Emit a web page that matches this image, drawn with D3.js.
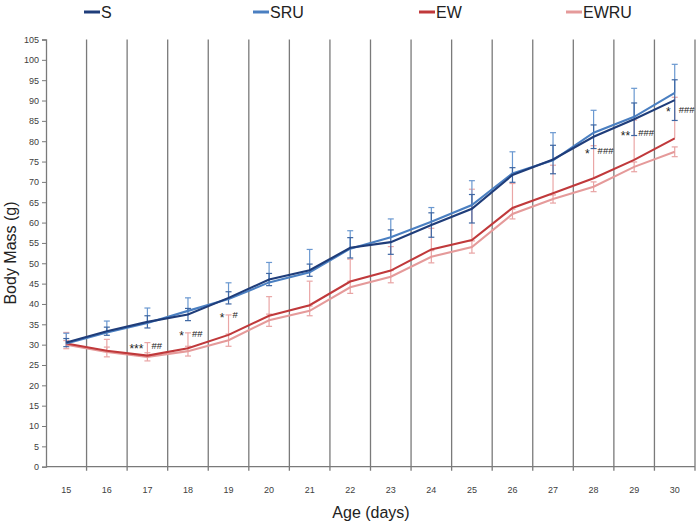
<!DOCTYPE html>
<html><head><meta charset="utf-8">
<script src="https://cdn.jsdelivr.net/npm/d3@7"></script>
<style>body{margin:0;background:#fff}svg{display:block}</style></head>
<body><svg id="c" width="697" height="525"></svg>
<script>
const days = [15,16,17,18,19,20,21,22,23,24,25,26,27,28,29,30];
const seriesNames = ["S","SRU","EW","EWRU"];
const S    = [30.5,33.3,35.6,37.4,41.5,46.0,48.3,53.8,55.2,59.4,63.4,71.7,75.5,81.1,85.4,90.1];
const SRU  = [30.3,33.0,35.3,38.3,41.2,45.3,47.8,53.6,56.4,60.2,64.3,72.1,75.3,82.1,86.0,91.9];
const EW   = [30.3,28.5,27.3,29.1,32.4,37.1,39.7,45.5,48.2,53.4,55.7,63.6,67.2,70.9,75.4,80.7];
const EWRU = [30.0,28.2,27.0,28.4,31.1,36.0,38.3,44.1,46.7,51.6,54.0,62.1,65.8,68.8,73.7,77.4];
// error bars: S and EWRU symmetric, SRU and EW plus direction
const S_err    = [1.0,1.0,1.5,1.5,1.5,1.5,1.5,2.5,3.0,3.0,3.5,1.8,3.5,2.9,4.0,5.0];
const SRU_err  = [2.5,2.8,3.7,3.2,4.0,4.9,5.6,4.4,4.5,3.5,6.0,5.3,6.8,5.5,7.0,7.0];
const EW_err   = [2.7,2.8,3.2,3.8,4.9,4.7,5.9,5.5,5.9,5.2,12.5,6.0,6.9,8.0,9.8,10.1];
const EWRU_err = [1.0,1.2,1.0,1.2,1.5,1.5,1.2,1.5,1.5,1.5,1.5,1.2,1.0,1.2,1.2,1.2];
const yTicks = d3.range(0,106,5);
const annotDays   = [17,18,19,28,29,30];
const annotStars  = ["***","*","*","*","**","*"];
const annotHashes = ["##","##","#","###","###","###"];
const annotY      = [29.7,32.8,37.3,77.6,82.1,87.8];

const colors = {S:"#1f3d7a", SRU:"#4a7fc1", EW:"#c0393b", EWRU:"#e59a9a"};
const barColors = {S:"#3d66a3", SRU:"#6a98d0", EW:"#eaa6a6", EWRU:"#e8a3a3"};

const svg = d3.select("#c");
const L = 46, R = 695, T = 39.5, B = 466.7;
const x = d3.scaleBand().domain(days).range([L,R]).padding(0);
const bw = x.bandwidth();
const cx = d => x(d) + bw/2;
const y = d3.scaleLinear().domain([0,105]).range([B,T]);
const FONT = "Liberation Sans, Arial, sans-serif";

// vertical gridlines at category boundaries
svg.append("g").selectAll("line").data(days).join("line")
  .attr("x1", d => x(d)+bw).attr("x2", d => x(d)+bw)
  .attr("y1", T).attr("y2", B+4)
  .attr("stroke", "#7a7a7a").attr("stroke-width", 1.3);

// y axis
const ya = svg.append("g").attr("transform", `translate(${L},0)`)
  .call(d3.axisLeft(y).tickValues(yTicks).tickSize(4).tickPadding(3));
ya.select(".domain").attr("stroke","#7a7a7a").attr("stroke-width",1.3);
ya.selectAll(".tick line").attr("stroke","#7a7a7a");
ya.selectAll(".tick text").attr("font-family",FONT)
  .attr("font-size","9px").attr("fill","#404040");

// x axis line and labels
svg.append("line").attr("x1",L).attr("x2",R).attr("y1",B).attr("y2",B)
  .attr("stroke","#7a7a7a").attr("stroke-width",1.3);
svg.append("g").selectAll("text").data(days).join("text")
  .attr("x", cx).attr("y", 493).attr("text-anchor","middle")
  .attr("font-family",FONT).attr("font-size","9px")
  .attr("fill","#404040").text(d => d);

// error bars
function errBars(vals, errs, color, plusOnly) {
  const g = svg.append("g").attr("stroke", color).attr("stroke-width", 1.2);
  days.forEach((d,i) => {
    const top = vals[i] + errs[i];
    const bot = plusOnly ? vals[i] : vals[i] - errs[i];
    const X = cx(d);
    g.append("line").attr("x1",X).attr("x2",X).attr("y1",y(top)).attr("y2",y(bot));
    g.append("line").attr("x1",X-3).attr("x2",X+3).attr("y1",y(top)).attr("y2",y(top));
    if (!plusOnly) g.append("line").attr("x1",X-3).attr("x2",X+3).attr("y1",y(bot)).attr("y2",y(bot));
  });
}
errBars(EW, EW_err, barColors.EW, true);
errBars(EWRU, EWRU_err, barColors.EWRU, false);
errBars(SRU, SRU_err, barColors.SRU, true);
errBars(S, S_err, barColors.S, false);

// lines
const line = d3.line().x((v,i) => cx(days[i])).y(v => y(v));
[["EWRU",EWRU],["EW",EW],["SRU",SRU],["S",S]].forEach(([n,vals]) => {
  svg.append("path").datum(vals).attr("d", line).attr("fill","none")
    .attr("stroke", colors[n]).attr("stroke-width", 2.1);
});

// annotations
const ag = svg.append("g").attr("font-family",FONT).attr("fill","#222");
annotDays.forEach((d,i) => {
  const X = cx(d), Y = y(annotY[i]);
  ag.append("text").attr("x", X-4).attr("y", Y+7).attr("text-anchor","end")
    .attr("font-size","12px").text(annotStars[i]);
  ag.append("text").attr("x", X+4).attr("y", Y+3.5).attr("text-anchor","start")
    .attr("font-size","9.5px").text(annotHashes[i]);
});

// axis titles
svg.append("text").attr("x", 371).attr("y", 518).attr("text-anchor","middle")
  .attr("font-family",FONT).attr("font-size","16px")
  .attr("fill","#222").text("Age (days)");
svg.append("text").attr("transform","translate(16,253) rotate(-90)").attr("text-anchor","middle")
  .attr("font-family",FONT).attr("font-size","16px")
  .attr("fill","#222").text("Body Mass (g)");

// legend
const legX = [84, 253, 419, 566];
const lg = svg.append("g");
seriesNames.forEach((n,i) => {
  lg.append("line").attr("x1", legX[i]).attr("x2", legX[i]+16).attr("y1", 12).attr("y2", 12)
    .attr("stroke", colors[n]).attr("stroke-width", 3);
  lg.append("text").attr("x", legX[i]+17).attr("y", 18).attr("font-family",FONT)
    .attr("font-size","16px").attr("fill","#222").text(n);
});
</script></body></html>
